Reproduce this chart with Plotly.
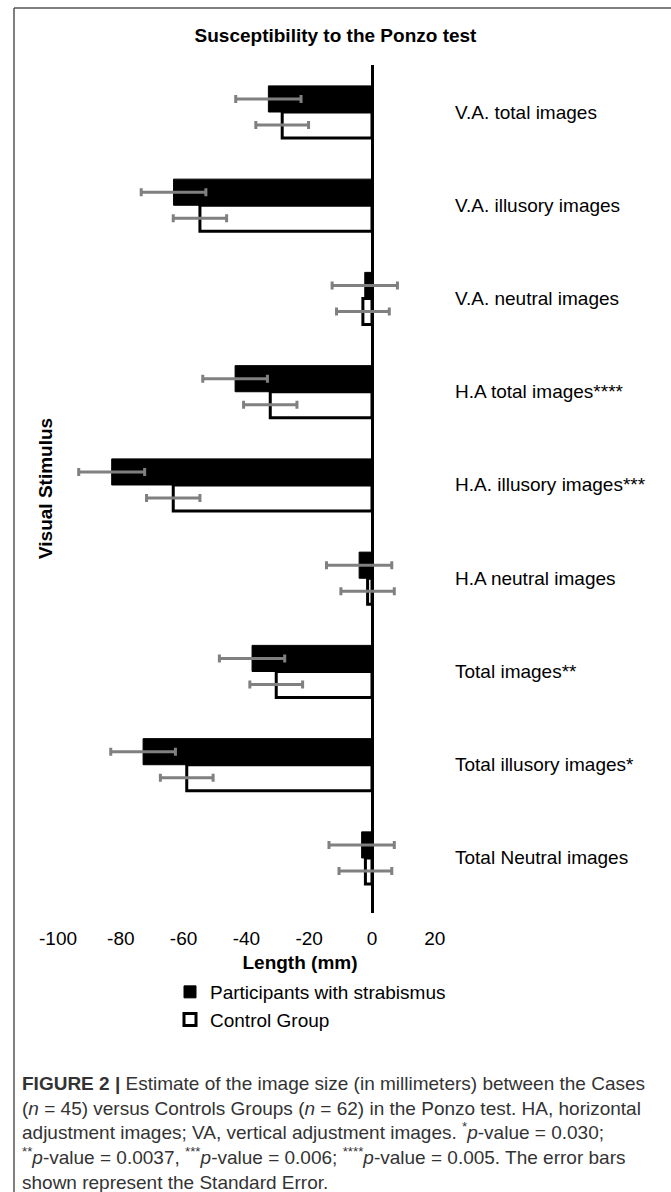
import plotly.graph_objects as go

categories = ["V.A. total images", "V.A. illusory images", "V.A. neutral images",
              "H.A total images****", "H.A. illusory images***", "H.A neutral images",
              "Total images**", "Total illusory images*", "Total Neutral images"]
cases_mean = [-33.0, -63.2, -2.3, -43.6, -82.9, -4.1, -38.2, -72.9, -3.3]
cases_se = [10.4, 10.3, 10.4, 10.3, 10.5, 10.4, 10.4, 10.3, 10.4]
control_mean = [-28.6, -54.8, -2.9, -32.4, -63.3, -1.4, -30.5, -59.0, -2.1]
control_se = [8.4, 8.5, 8.4, 8.5, 8.5, 8.5, 8.4, 8.4, 8.4]
x_ticks = [-100, -80, -60, -40, -20, 0, 20]

W, H = 671, 1192
L, R, T, B = 50, 550, 65, 913

def px2paper_x(px):
    return (px - L) / (R - L)

def px2paper_y(py):
    return (B - py) / (B - T)

FONT = "Arial, Liberation Sans"

fig = go.Figure()
fig.add_trace(go.Bar(
    y=categories, x=cases_mean, orientation="h", name="Participants with strabismus",
    marker=dict(color="black", line=dict(color="black", width=1)),
    error_x=dict(type="data", array=cases_se, color="#808080", thickness=3, width=4),
))
fig.add_trace(go.Bar(
    y=categories, x=control_mean, orientation="h", name="Control Group",
    marker=dict(color="white", line=dict(color="black", width=3)),
    error_x=dict(type="data", array=control_se, color="#808080", thickness=3, width=4),
))

annotations = []
for c in categories:
    annotations.append(dict(x=px2paper_x(453), xref="paper", y=c, yref="y", text=c,
                            showarrow=False, xanchor="left", yanchor="middle",
                            font=dict(family=FONT, size=19, color="black")))
annotations.append(dict(x=px2paper_x(45), xref="paper", y=px2paper_y(489), yref="paper",
                        text="<b>Visual Stimulus</b>", textangle=-90, showarrow=False,
                        xanchor="center", yanchor="middle",
                        font=dict(family=FONT, size=19, color="black")))
caption = ("<b>FIGURE 2 |</b> Estimate of the image size (in millimeters) between the Cases<br>"
           "(<i>n</i> = 45) versus Controls Groups (<i>n</i> = 62) in the Ponzo test. HA, horizontal<br>"
           "adjustment images; VA, vertical adjustment images. <sup>*</sup><i>p</i>-value = 0.030;<br>"
           "<sup>**</sup><i>p</i>-value = 0.0037, <sup>***</sup><i>p</i>-value = 0.006; <sup>****</sup><i>p</i>-value = 0.005. The error bars<br>"
           "shown represent the Standard Error.")
annotations.append(dict(x=px2paper_x(20), xref="paper", y=px2paper_y(1071), yref="paper",
                        text=caption, showarrow=False, xanchor="left", yanchor="top", align="left",
                        font=dict(family="Liberation Sans, Arial", size=19, color="#333333")))

shapes = [
    dict(type="line", xref="paper", yref="paper", x0=px2paper_x(14), x1=px2paper_x(671),
         y0=px2paper_y(8), y1=px2paper_y(8), line=dict(color="#555555", width=1.5)),
    dict(type="line", xref="paper", yref="paper", x0=px2paper_x(14), x1=px2paper_x(14),
         y0=px2paper_y(8), y1=px2paper_y(1192), line=dict(color="#555555", width=1.5)),
]

fig.update_layout(
    width=W, height=H,
    margin=dict(l=L, r=W - R, t=T, b=H - B, pad=0),
    paper_bgcolor="white", plot_bgcolor="white",
    barmode="group", bargap=0.44, bargroupgap=0,
    title=dict(text="<b>Susceptibility to the Ponzo test</b>", x=0.5, xanchor="center",
               y=1 - 35 / H, yanchor="middle",
               font=dict(family=FONT, size=19, color="black")),
    xaxis=dict(range=[(L - 372) / 3.14, (R - 372) / 3.14], tickvals=x_ticks,
               ticktext=[str(v) for v in x_ticks], showgrid=False, showline=False,
               zeroline=True, zerolinecolor="black", zerolinewidth=3,
               ticks="outside", ticklen=8, tickcolor="rgba(0,0,0,0)",
               tickfont=dict(family=FONT, size=19, color="black"),
               title=dict(text="<b>Length (mm)</b>", standoff=7,
                          font=dict(family=FONT, size=19, color="black"))),
    yaxis=dict(type="category", categoryorder="array", categoryarray=categories,
               range=[8.59, -0.504], showticklabels=False, showgrid=False,
               showline=False, zeroline=False, ticks=""),
    legend=dict(x=px2paper_x(170), xanchor="left", y=px2paper_y(973), yanchor="top",
                orientation="v", font=dict(family=FONT, size=19, color="black"),
                bgcolor="rgba(0,0,0,0)", tracegroupgap=0),
    annotations=annotations,
    shapes=shapes,
)

fig.write_html("out.html")
